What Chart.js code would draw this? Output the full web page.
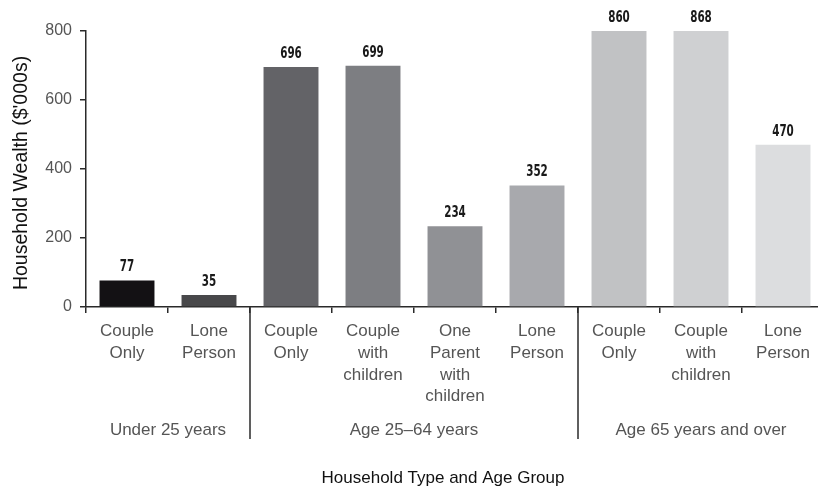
<!DOCTYPE html>
<html>
<head>
<meta charset="utf-8">
<script src="https://cdn.jsdelivr.net/npm/chart.js@4/dist/chart.umd.min.js"></script>
<style>
  html, body { margin: 0; padding: 0; background: #fff; overflow: hidden; }
  #wrap { width: 830px; height: 488px; }
</style>
</head>
<body>
<div id="wrap"><canvas id="c" width="830" height="488"></canvas></div>
<script>
// Household type labels (one entry per bar, split into lines)
const categories = [
  ["Couple", "Only"],
  ["Lone", "Person"],
  ["Couple", "Only"],
  ["Couple", "with", "children"],
  ["One", "Parent", "with", "children"],
  ["Lone", "Person"],
  ["Couple", "Only"],
  ["Couple", "with", "children"],
  ["Lone", "Person"]
];
// Household wealth, $'000s
const wealth = [77, 35, 696, 699, 234, 352, 860, 868, 470];
// Age groups and how many household types each spans
const groups = ["Under 25 years", "Age 25\u201364 years", "Age 65 years and over"];
const groupSizes = [2, 4, 3];
const yTicks = [0, 200, 400, 600, 800];

const barColors = ["#131114", "#48484a", "#636367", "#7d7e82", "#909195",
                   "#a8a9ad", "#c1c2c4", "#cfd0d2", "#dcdddf"];

const AXIS = "#2a2a2a";
const TEXT_GREY = "#555555";
const LABEL_FONT = "'Liberation Sans', Arial, sans-serif";

const annotations = {
  id: "annotations",
  afterDatasetsDraw(chart) {
    const ctx = chart.ctx;
    const area = chart.chartArea;
    const meta = chart.getDatasetMeta(0);
    // value labels above each bar (bars taller than the axis are cut at the top)
    ctx.save();
    ctx.fillStyle = "#1a1a1a";
    ctx.textAlign = "center";
    ctx.textBaseline = "middle";
    ctx.font = "bold 16px 'Liberation Sans Narrow', 'DejaVu Sans Condensed', sans-serif";
    meta.data.forEach((bar, i) => {
      const top = Math.max(bar.y, area.top);
      ctx.save();
      ctx.translate(bar.x, top - 13.5);
      ctx.scale(0.72, 1);
      ctx.fillText(String(wealth[i]), 0, 0);
      ctx.restore();
    });
    ctx.restore();
  },
  afterDraw(chart) {
    const ctx = chart.ctx;
    const area = chart.chartArea;
    const x = chart.scales.x;
    const step = x.getPixelForValue(1) - x.getPixelForValue(0);
    ctx.save();
    // group dividers and group names
    let start = 0;
    ctx.strokeStyle = AXIS;
    ctx.lineWidth = 1.5;
    ctx.fillStyle = TEXT_GREY;
    ctx.font = "17px " + LABEL_FONT;
    ctx.textAlign = "center";
    ctx.textBaseline = "middle";
    groupSizes.forEach((n, g) => {
      const left = x.getPixelForValue(start) - step / 2;
      const right = x.getPixelForValue(start + n - 1) + step / 2;
      ctx.fillText(groups[g], (left + right) / 2, 430);
      if (g > 0) {
        ctx.beginPath();
        ctx.moveTo(left, area.bottom);
        ctx.lineTo(left, 439);
        ctx.stroke();
      }
      start += n;
    });
    // axis titles
    ctx.fillStyle = "#111";
    ctx.font = "17px " + LABEL_FONT;
    ctx.fillText("Household Type and Age Group", 443, 478);
    ctx.save();
    ctx.translate(22, 173);
    ctx.rotate(-Math.PI / 2);
    ctx.font = "19.5px " + LABEL_FONT;
    ctx.fillText("Household Wealth ($'000s)", 0, 0);
    ctx.restore();
    ctx.restore();
  }
};

new Chart(document.getElementById("c"), {
  type: "bar",
  data: {
    labels: categories,
    datasets: [{
      data: wealth,
      backgroundColor: barColors,
      borderWidth: 0,
      categoryPercentage: 1,
      barPercentage: 0.67
    }]
  },
  options: {
    responsive: false,
    animation: false,
    devicePixelRatio: 1,
    layout: { padding: { top: 31, right: 6, left: 0, bottom: 0 } },
    plugins: { legend: { display: false }, tooltip: { enabled: false } },
    scales: {
      x: {
        afterFit(scale) { scale.height = 181; },
        border: { color: AXIS, width: 1.5 },
        grid: { display: true, drawOnChartArea: false, drawTicks: true, tickLength: 6, color: AXIS, lineWidth: 1.5, offset: true },
        ticks: {
          color: TEXT_GREY,
          padding: 8,
          maxRotation: 0,
          autoSkip: false,
          font: { family: LABEL_FONT, size: 17, lineHeight: 1.27 }
        }
      },
      y: {
        min: 0,
        max: 800,
        afterFit(scale) { scale.width = 86; },
        afterBuildTicks(scale) { scale.ticks = yTicks.map(v => ({ value: v })); },
        border: { color: AXIS, width: 1.5 },
        grid: { drawOnChartArea: false, drawTicks: true, tickLength: 6, color: AXIS, lineWidth: 1.5 },
        ticks: {
          color: TEXT_GREY,
          padding: 8,
          font: { family: LABEL_FONT, size: 16 }
        }
      }
    }
  },
  plugins: [annotations]
});
</script>
</body>
</html>
